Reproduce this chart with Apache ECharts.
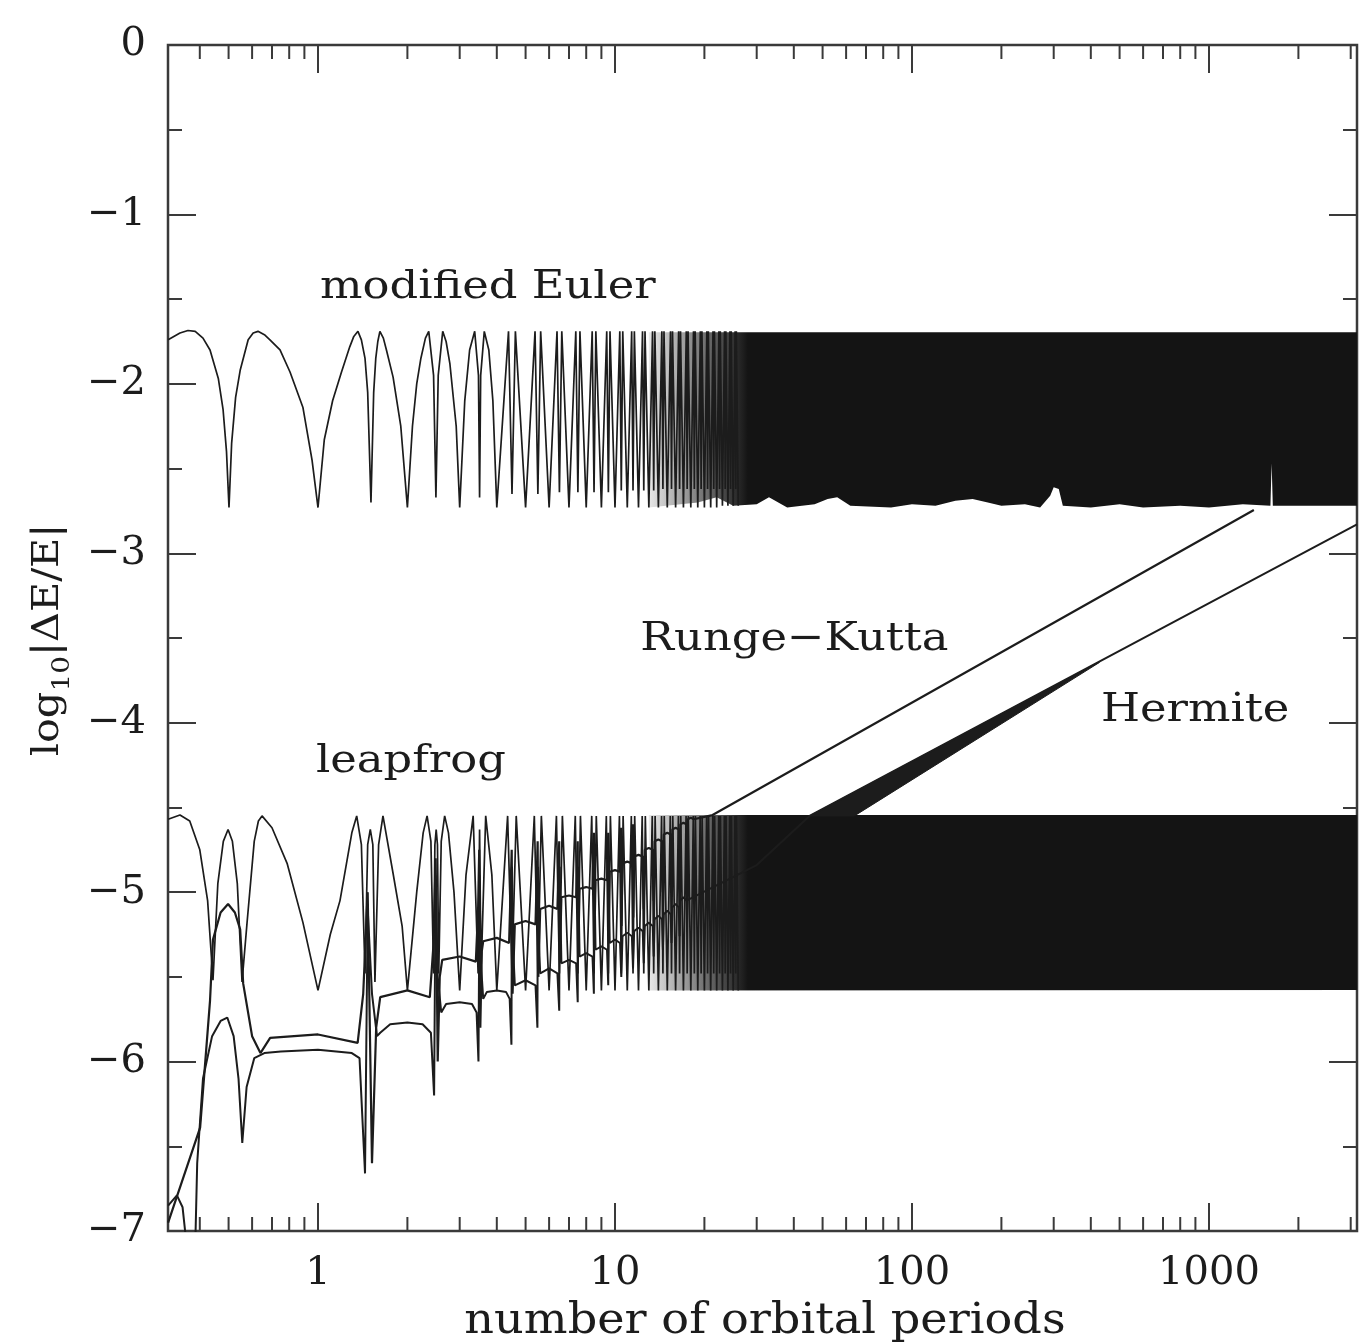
<!DOCTYPE html>
<html><head><meta charset="utf-8">
<script src="https://cdn.jsdelivr.net/npm/echarts@6/dist/echarts.min.js"></script>
<style>html,body{margin:0;padding:0;background:#fff}#c{width:1372px;height:1344px}</style>
</head><body><div id="c"></div>
<script>
// ---------- axis data ----------
const xMin = 0.3126, xMax = 3150;
const yMin = -7, yMax = 0;
const xMajorTicks = [1, 10, 100, 1000];
const xTickLabels = ['1', '10', '100', '1000'];
const xMinorTicks = [0.4,0.5,0.6,0.7,0.8,0.9,2,3,4,5,6,7,8,9,20,30,40,50,60,70,80,90,200,300,400,500,600,700,800,900,2000,3000];
const yTickLabels = ['0','\u22121','\u22122','\u22123','\u22124','\u22125','\u22126','\u22127'];

// ---------- curve data: [orbits, log10|dE/E|] ----------
const modifiedEuler = [
[0.3129,-1.74],[0.343,-1.70],[0.365,-1.685],[0.386,-1.69],[0.41,-1.73],[0.433,-1.80],[0.462,-1.97],[0.479,-2.15],[0.492,-2.40],[0.5016,-2.73],[0.512,-2.35],[0.528,-2.08],[0.547,-1.92],[0.582,-1.74],[0.605,-1.70],[0.628,-1.69],[0.66,-1.71],[0.689,-1.74],[0.745,-1.80],[0.805,-1.93],[0.890,-2.14],[0.955,-2.45],[1.0,-2.73],
[1.05,-2.33],[1.12,-2.10],[1.20,-1.93],[1.28,-1.78],[1.32,-1.72],[1.363,-1.69],[1.40,-1.74],[1.44,-1.85],[1.47,-2.05],[1.508,-2.70],[1.54,-2.05],[1.565,-1.85],[1.59,-1.75],[1.616,-1.69],[1.66,-1.73],[1.70,-1.80],[1.79,-1.96],[1.90,-2.25],[2.0,-2.73],
[2.08,-2.25],[2.15,-2.0],[2.22,-1.85],[2.30,-1.73],[2.36,-1.69],[2.45,-1.95],[2.495,-2.67],[2.54,-1.95],[2.63,-1.69],[2.70,-1.75],[2.78,-1.88],[2.92,-2.25],[3.0,-2.73],
[3.12,-2.10],[3.24,-1.80],[3.37,-1.69],[3.47,-1.95],[3.5,-2.67],[3.53,-1.95],[3.63,-1.69],[3.76,-1.80],[3.88,-2.10],[4.0,-2.73],
[4.38,-1.69],[4.5,-2.65],[4.62,-1.69],[5,-2.73],
[5.38,-1.69],[5.5,-2.65],[5.62,-1.69],[6,-2.73],
[6.38,-1.69],[6.5,-2.64],[6.62,-1.69],[7,-2.73],
[7.38,-1.69],[7.5,-2.64],[7.62,-1.69],[8,-2.73],
[8.38,-1.69],[8.5,-2.64],[8.62,-1.69],[9,-2.73],
[9.38,-1.69],[9.5,-2.64],[9.62,-1.69],[10,-2.73],
[10.38,-1.69],[10.5,-2.63],[10.62,-1.69],[11,-2.73],
[11.38,-1.69],[11.5,-2.63],[11.62,-1.69],[12,-2.73],
[12.38,-1.69],[12.5,-2.63],[12.62,-1.69],[13,-2.73],
[13.38,-1.69],[13.5,-2.63],[13.62,-1.69],[14,-2.73],
[14.38,-1.69],[14.5,-2.62],[14.62,-1.69],[15,-2.73],
[15.38,-1.69],[15.5,-2.62],[15.62,-1.69],[16,-2.73],
[16.38,-1.69],[16.5,-2.62],[16.62,-1.69],[17,-2.73],
[17.38,-1.69],[17.5,-2.62],[17.62,-1.69],[18,-2.73],
[18.38,-1.69],[18.5,-2.62],[18.62,-1.69],[19,-2.73],
[19.38,-1.69],[19.5,-2.62],[19.62,-1.69],[20,-2.73],
[20.38,-1.69],[20.5,-2.62],[20.62,-1.69],[21,-2.73],
[21.38,-1.69],[21.5,-2.62],[21.62,-1.69],[22,-2.73],
[22.38,-1.69],[22.5,-2.62],[22.62,-1.69],[23,-2.72],
[23.38,-1.69],[23.5,-2.62],[23.62,-1.69],[24,-2.72],
[24.38,-1.69],[24.5,-2.62],[24.62,-1.69],[25,-2.72],
[25.38,-1.69],[25.5,-2.62],[25.62,-1.69],[26,-2.72]
];
const eulerBandTop = [[13,-1.695],[3150,-1.695]];
const eulerBandBottom = [[13,-2.73],[19,-2.70],[22,-2.67],[25,-2.72],[30,-2.71],[33,-2.67],[38,-2.73],[47,-2.71],[52,-2.68],[56,-2.67],[62,-2.72],[85,-2.73],[100,-2.71],[120,-2.72],[140,-2.69],[160,-2.68],[180,-2.70],[200,-2.72],[240,-2.71],[270,-2.73],[292,-2.66],[300,-2.61],[312,-2.62],[322,-2.72],[400,-2.73],[500,-2.71],[600,-2.73],[800,-2.72],[1000,-2.73],[1300,-2.71],[1610,-2.72],[1625,-2.47],[1640,-2.72],[2000,-2.72],[3150,-2.72]];

const leapfrog = [
[0.3129,-4.57],[0.343,-4.545],[0.37,-4.58],[0.40,-4.75],[0.425,-5.05],[0.443,-5.52],[0.46,-4.95],[0.48,-4.70],[0.498,-4.63],[0.515,-4.70],[0.535,-4.95],[0.555,-5.53],[0.577,-5.18],[0.61,-4.70],[0.63,-4.58],[0.648,-4.55],[0.70,-4.62],[0.787,-4.83],[0.89,-5.18],[1.0,-5.58],
[1.10,-5.25],[1.186,-5.05],[1.30,-4.65],[1.35,-4.55],[1.40,-4.72],[1.44,-5.48],[1.47,-4.72],[1.50,-4.63],[1.53,-4.72],[1.555,-5.53],[1.60,-4.72],[1.655,-4.55],[1.79,-4.89],[1.92,-5.2],[2.0,-5.58],
[2.15,-5.0],[2.26,-4.65],[2.33,-4.55],[2.40,-4.70],[2.45,-5.48],[2.475,-4.72],[2.5,-4.63],[2.525,-4.72],[2.55,-5.48],[2.60,-4.70],[2.67,-4.55],[2.75,-4.65],[2.87,-5.0],[3.0,-5.58],
[3.15,-4.9],[3.33,-4.55],[3.46,-5.48],[3.5,-4.63],[3.54,-5.48],[3.67,-4.55],[3.85,-4.9],[4.0,-5.58],
[4.35,-4.55],[4.5,-5.48],[4.65,-4.55],[5,-5.58],
[5.35,-4.55],[5.5,-5.48],[5.65,-4.55],[6,-5.58],
[6.35,-4.55],[6.5,-5.48],[6.65,-4.55],[7,-5.58],
[7.35,-4.55],[7.5,-5.48],[7.65,-4.55],[8,-5.58],
[8.35,-4.55],[8.5,-5.48],[8.65,-4.55],[9,-5.58],
[9.35,-4.55],[9.5,-5.48],[9.65,-4.55],[10,-5.58],
[10.35,-4.55],[10.5,-5.48],[10.65,-4.55],[11,-5.58],
[11.35,-4.55],[11.5,-5.48],[11.65,-4.55],[12,-5.58],
[12.35,-4.55],[12.5,-5.48],[12.65,-4.55],[13,-5.58],
[13.35,-4.55],[13.5,-5.48],[13.65,-4.55],[14,-5.58],
[14.35,-4.55],[14.5,-5.48],[14.65,-4.55],[15,-5.58],
[15.35,-4.55],[15.5,-5.48],[15.65,-4.55],[16,-5.58],
[16.35,-4.55],[16.5,-5.48],[16.65,-4.55],[17,-5.58],
[17.35,-4.55],[17.5,-5.48],[17.65,-4.55],[18,-5.58],
[18.35,-4.55],[18.5,-5.48],[18.65,-4.55],[19,-5.58],
[19.35,-4.55],[19.5,-5.48],[19.65,-4.55],[20,-5.58],
[20.35,-4.55],[20.5,-5.48],[20.65,-4.55],[21,-5.58],
[21.35,-4.55],[21.5,-5.48],[21.65,-4.55],[22,-5.58],
[22.35,-4.55],[22.5,-5.48],[22.65,-4.55],[23,-5.58],
[23.35,-4.55],[23.5,-5.48],[23.65,-4.55],[24,-5.58],
[24.35,-4.55],[24.5,-5.48],[24.65,-4.55],[25,-5.58],
[25.35,-4.55],[25.5,-5.48],[25.65,-4.55],[26,-5.58]
];
const leapfrogBandTop = [[13,-4.545],[3150,-4.545]];
const leapfrogBandBottom = [[13,-5.58],[3150,-5.578]];

const rungeKutta = [
[0.3129,-6.95],[0.401,-6.39],[0.433,-5.64],[0.443,-5.28],[0.47,-5.12],[0.498,-5.07],[0.525,-5.12],[0.547,-5.22],[0.56,-5.54],[0.60,-5.85],[0.64,-5.95],[0.69,-5.86],[1.0,-5.84],[1.36,-5.89],
[1.42,-5.6],[1.47,-5.0],[1.52,-6.6],[1.57,-5.8],[1.62,-5.62],[2.0,-5.58],[2.38,-5.62],
[2.45,-5.3],[2.49,-4.8],[2.53,-6.0],[2.57,-5.5],[2.62,-5.40],[3.0,-5.38],[3.4,-5.41],
[3.46,-5.1],[3.49,-4.75],[3.52,-5.8],[3.56,-5.35],[3.6,-5.29],[4.0,-5.27],[4.4,-5.30],
[4.49,-4.75],[4.52,-5.6],[4.6,-5.19],[5.0,-5.17],[5.4,-5.19],
[5.49,-4.7],[5.52,-5.5],[5.6,-5.10],[6.0,-5.08],[6.4,-5.10],
[6.49,-4.7],[6.52,-5.4],[6.6,-5.03],[7.0,-5.02],[7.4,-5.03],
[7.49,-4.7],[7.52,-5.35],[7.6,-4.98],[8.0,-4.97],[8.4,-4.98],
[8.49,-4.65],[8.52,-5.3],[8.6,-4.93],[9.0,-4.92],[9.4,-4.93],
[9.49,-4.65],[9.52,-5.25],[9.6,-4.88],[10.0,-4.87],[10.4,-4.88],
[10.49,-4.62],[10.52,-5.2],[10.6,-4.83],[11.0,-4.82],[11.4,-4.83],
[11.49,-4.6],[11.52,-5.15],[11.6,-4.79],[12.0,-4.78],[12.4,-4.79],
[12.5,-5.1],[12.6,-4.75],[13.0,-4.74],[13.4,-4.75],
[13.5,-5.05],[13.6,-4.70],[14.0,-4.69],[14.4,-4.70],
[14.5,-5.0],[14.6,-4.66],[15.0,-4.65],[15.4,-4.66],
[15.5,-4.95],[15.6,-4.63],[16.0,-4.62],[16.4,-4.63],
[16.5,-4.9],[16.6,-4.60],[17.0,-4.59],[17.4,-4.60],
[17.5,-4.85],[17.6,-4.57],[18.0,-4.56],[18.4,-4.57],
[21.3,-4.545],[1416,-2.745]
];

const hermite = [
[0.3129,-6.85],[0.335,-6.79],[0.35,-6.86],[0.362,-7.1],[0.386,-7.1],[0.392,-6.6],[0.41,-6.1],[0.44,-5.85],[0.47,-5.76],[0.495,-5.74],[0.52,-5.85],[0.54,-6.1],[0.556,-6.48],[0.575,-6.15],[0.61,-5.98],[0.66,-5.95],[0.75,-5.94],[1.0,-5.93],[1.3,-5.95],[1.38,-5.98],
[1.44,-6.66],[1.47,-5.1],[1.52,-5.6],[1.58,-5.85],[1.62,-5.83],[1.75,-5.78],[2.0,-5.77],[2.25,-5.78],[2.4,-5.83],
[2.46,-6.2],[2.49,-4.9],[2.53,-5.5],[2.6,-5.71],[2.7,-5.66],[3.0,-5.65],[3.3,-5.66],[3.42,-5.71],
[3.47,-6.0],[3.5,-4.9],[3.53,-5.4],[3.6,-5.63],[3.7,-5.59],[4.0,-5.58],[4.3,-5.59],[4.42,-5.63],
[4.48,-5.9],[4.5,-4.85],[4.53,-5.3],[4.6,-5.55],[5.0,-5.52],[5.4,-5.55],
[5.48,-5.8],[5.5,-4.85],[5.53,-5.25],[5.6,-5.48],[6.0,-5.45],[6.4,-5.48],
[6.49,-5.7],[6.51,-4.85],[6.6,-5.42],[7.0,-5.40],[7.4,-5.42],
[7.49,-5.65],[7.51,-4.85],[7.6,-5.38],[8.0,-5.36],[8.4,-5.38],
[8.49,-5.6],[8.51,-4.8],[8.6,-5.34],[9.0,-5.32],[9.4,-5.34],
[9.49,-5.55],[9.51,-4.8],[9.6,-5.30],[10.0,-5.28],[10.4,-5.30],
[10.5,-5.5],[10.6,-5.26],[11.0,-5.24],[11.4,-5.26],
[11.5,-5.45],[11.6,-5.23],[12.0,-5.21],[12.4,-5.23],
[12.5,-5.42],[12.6,-5.20],[13.0,-5.18],[13.4,-5.20],
[13.5,-5.38],[13.6,-5.16],[14.0,-5.14],[14.4,-5.16],
[14.5,-5.34],[14.6,-5.13],[15.0,-5.11],[15.4,-5.13],
[15.5,-5.3],[15.6,-5.09],[16.0,-5.07],[16.4,-5.09],
[16.5,-5.26],[16.6,-5.05],[17.0,-5.03],[17.4,-5.05],
[30,-4.84],[45.2,-4.55],[3150,-2.83]
];
const hermiteWedgeTop = [[45.2,-4.55],[427,-3.64]];
const hermiteWedgeBottom = [[45.2,-4.55],[64,-4.55],[427,-3.645]];

// ---------- text ----------
const curveLabels = [
  {text: 'modified Euler', t: 3.73, y: -1.43},
  {text: 'Runge\u2212Kutta', t: 40.2, y: -3.51},
  {text: 'Hermite', t: 898, y: -3.93},
  {text: 'leapfrog', t: 2.055, y: -4.23}
];
const xAxisTitle = 'number of orbital periods';
const yAxisTitle = ['log', '10', '|\u0394E/E|'];

// ---------- styles ----------
const FONT = 'DejaVu Serif';
const INK = '#1c1c1c';
const FRAME = '#3a3a3a';
const STRETCH = 1.12;

const chart = echarts.init(document.getElementById('c'), null, {renderer: 'canvas'});

function curve(name, data, width) {
  return {type: 'line', name, data, showSymbol: false, symbol: 'none', clip: true,
    lineStyle: {color: INK, width: width}, animation: false, z: 4, silent: true};
}
function band(top, bottom, fadeFrom, fadeTo) {
  return {type: 'custom', clip: true, z: 3, silent: true, animation: false,
    data: [[top[0][0], top[0][1]]], encode: {x: 0, y: 1},
    renderItem: function (params, api) {
      const pts = top.map(p => api.coord(p)).concat(bottom.slice().reverse().map(p => api.coord(p)));
      let fill = INK;
      if (fadeFrom) {
        const x0 = api.coord([fadeFrom, -3])[0], x1 = api.coord([fadeTo, -3])[0];
        fill = new echarts.graphic.LinearGradient(x0, 0, x1, 0, [
          {offset: 0, color: 'rgba(20,20,20,0)'},
          {offset: 0.6, color: 'rgba(20,20,20,0.6)'},
          {offset: 1, color: 'rgba(20,20,20,1)'}], true);
      }
      return {type: 'polygon', shape: {points: pts}, style: {fill: fill, stroke: fadeFrom ? null : INK, lineWidth: 1}};
    }};
}
function xTicks(values, len) {
  return {type: 'custom', clip: false, z: 6, silent: true, animation: false,
    data: values.map(v => [v, yMin]), encode: {x: 0, y: 1},
    renderItem: function (params, api) {
      const v = api.value(0);
      const b = api.coord([v, yMin]), t = api.coord([v, yMax]);
      const st = {stroke: FRAME, lineWidth: 2};
      return {type: 'group', children: [
        {type: 'line', shape: {x1: b[0], y1: b[1], x2: b[0], y2: b[1] - len}, style: st},
        {type: 'line', shape: {x1: t[0], y1: t[1], x2: t[0], y2: t[1] + len}, style: st}]};
    }};
}
function labelSeries() {
  return {type: 'custom', clip: false, z: 7, silent: true, animation: false,
    data: curveLabels.map(l => [l.t, l.y]), encode: {x: 0, y: 1},
    renderItem: function (params, api) {
      const p = api.coord([api.value(0), api.value(1)]);
      return {type: 'text', x: p[0], y: p[1], scaleX: STRETCH, style: {text: curveLabels[params.dataIndex].text,
        fontFamily: FONT, fontSize: 40, fill: INK, align: 'center', verticalAlign: 'middle'}};
    }};
}

const yAxisCommon = {type: 'value', min: yMin, max: yMax, interval: 1,
  axisLine: {show: false}, splitLine: {show: false},
  axisTick: {show: true, inside: true, length: 28, lineStyle: {color: FRAME, width: 2}},
  minorTick: {show: true, splitNumber: 2, length: 14, lineStyle: {color: FRAME, width: 2}}};

chart.setOption({
  animation: false,
  backgroundColor: '#fff',
  grid: {left: 168, right: 15, top: 45, bottom: 113, show: true, borderColor: FRAME, borderWidth: 2.5, backgroundColor: 'transparent'},
  xAxis: [{type: 'log', logBase: 10, min: xMin, max: xMax,
    axisLine: {show: false}, axisTick: {show: false}, splitLine: {show: false}, minorTick: {show: false},
    axisLabel: {fontFamily: FONT, fontSize: 40, color: INK, margin: 23, showMinLabel: false, showMaxLabel: false,
      formatter: function (v) {
        for (let i = 0; i < xMajorTicks.length; i++) if (Math.abs(v / xMajorTicks[i] - 1) < 1e-6) return xTickLabels[i];
        return '';
      }}}],
  yAxis: [
    Object.assign({}, yAxisCommon, {position: 'left',
      axisLabel: {fontFamily: FONT, fontSize: 40, color: INK, margin: 22,
        formatter: v => yTickLabels[Math.round(-v)]}}),
    Object.assign({}, yAxisCommon, {position: 'right', axisLabel: {show: false}})
  ],
  graphic: [
    {type: 'text', x: 765, y: 1322, scaleX: 1.1, silent: true,
      style: {text: xAxisTitle, fontFamily: FONT, fontSize: 42, fill: INK, align: 'center', verticalAlign: 'middle'}},
    {type: 'text', x: 45, y: 640, rotation: Math.PI / 2, scaleX: 1.12, silent: true,
      style: {text: '{n|' + yAxisTitle[0] + '}{s|' + yAxisTitle[1] + '}{n|' + yAxisTitle[2] + '}',
        align: 'center', verticalAlign: 'middle', fill: INK,
        rich: {n: {fontFamily: FONT, fontSize: 37, fill: INK, lineHeight: 44, verticalAlign: 'bottom'},
               s: {fontFamily: FONT, fontSize: 25, fill: INK, lineHeight: 44, verticalAlign: 'bottom', padding: [0, 0, -8, 0]}}}}
  ],
  series: [
    band(eulerBandTop, eulerBandBottom, 12, 28),
    band(leapfrogBandTop, leapfrogBandBottom, 12, 28),
    band(hermiteWedgeTop, hermiteWedgeBottom, null, null),
    curve('modified Euler', modifiedEuler, 1.7),
    curve('leapfrog', leapfrog, 1.7),
    curve('Runge-Kutta', rungeKutta, 2.2),
    curve('Hermite', hermite, 2.0),
    xTicks(xMinorTicks, 14),
    xTicks(xMajorTicks, 28),
    labelSeries()
  ]
});
</script>
</body></html>
